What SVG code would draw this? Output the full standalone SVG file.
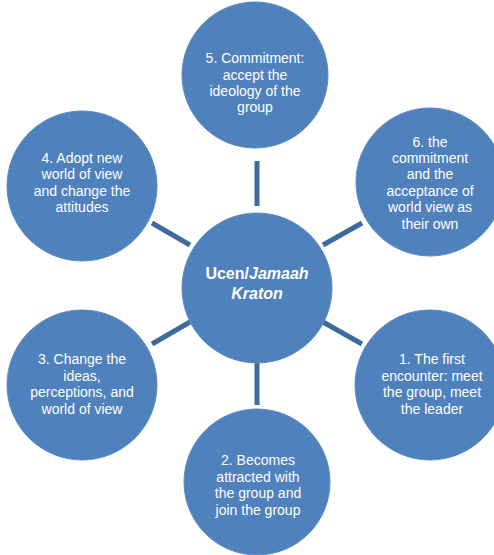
<svg xmlns="http://www.w3.org/2000/svg" width="494" height="555" viewBox="0 0 494 555">
<style>
.node circle{fill:#4f81bd;stroke:#5a8ac2;stroke-width:1}
.t{font-family:"Liberation Sans",Arial,sans-serif;font-size:14px;fill:#ffffff;text-anchor:middle}
.c{font-family:"Liberation Sans",Arial,sans-serif;font-size:16px;font-weight:bold;fill:#ffffff;text-anchor:middle}
#connectors line{stroke:#3e6a9e;stroke-width:5}
</style>
<rect width="494" height="555" fill="#ffffff"/>
<g id="connectors">
<line x1="257" y1="161" x2="257" y2="206"/>
<line x1="257" y1="362" x2="257" y2="405"/>
<line x1="152" y1="223" x2="190" y2="245"/>
<line x1="152" y1="344" x2="190" y2="322"/>
<line x1="323" y1="322" x2="362" y2="344"/>
<line x1="323" y1="245" x2="362" y2="223"/>
</g>
<g id="center" class="node">
<circle cx="257" cy="288" r="75"/>
<text class="c" x="257" y="279">Ucen/<tspan font-style="italic">Jamaah</tspan></text>
<text class="c" x="257" y="299" font-style="italic">Kraton</text>
</g>
<g id="n5" class="node">
<circle cx="255" cy="75" r="73"/>
<text class="t" x="255" y="63">5. Commitment:</text>
<text class="t" x="255" y="80">accept the</text>
<text class="t" x="255" y="96">ideology of the</text>
<text class="t" x="255" y="112">group</text>
</g>
<g id="n6" class="node">
<circle cx="430" cy="182" r="74"/>
<text class="t" x="430" y="147">6. the</text>
<text class="t" x="430" y="163">commitment</text>
<text class="t" x="430" y="179">and the</text>
<text class="t" x="430" y="196">acceptance of</text>
<text class="t" x="430" y="212">world view as</text>
<text class="t" x="430" y="229">their own</text>
</g>
<g id="n4" class="node">
<circle cx="82" cy="186" r="75"/>
<text class="t" x="82" y="163">4. Adopt new</text>
<text class="t" x="82" y="179">world of view</text>
<text class="t" x="82" y="196">and change the</text>
<text class="t" x="82" y="212">attitudes</text>
</g>
<g id="n3" class="node">
<circle cx="82" cy="385" r="75"/>
<text class="t" x="82" y="364">3. Change the</text>
<text class="t" x="82" y="381">ideas,</text>
<text class="t" x="82" y="397">perceptions, and</text>
<text class="t" x="82" y="414">world of view</text>
</g>
<g id="n2" class="node">
<circle cx="257" cy="482" r="73"/>
<text class="t" x="258" y="465">2. Becomes</text>
<text class="t" x="258" y="482">attracted with</text>
<text class="t" x="258" y="498">the group and</text>
<text class="t" x="258" y="515">join the group</text>
</g>
<g id="n1" class="node">
<circle cx="430" cy="385" r="75"/>
<text class="t" x="432" y="364">1. The first</text>
<text class="t" x="432" y="381">encounter: meet</text>
<text class="t" x="432" y="397">the group, meet</text>
<text class="t" x="432" y="414">the leader</text>
</g>
</svg>
